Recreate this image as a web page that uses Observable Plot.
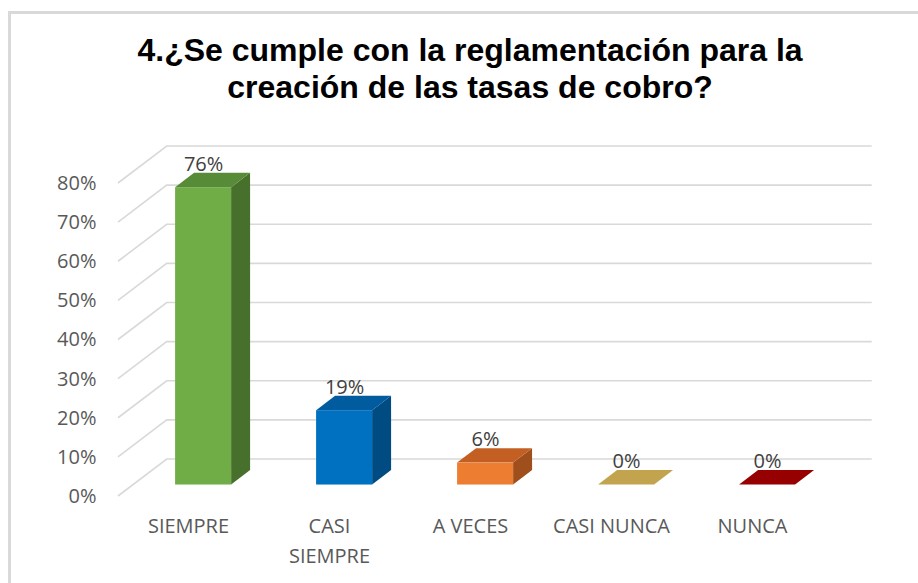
<!DOCTYPE html>
<html><head><meta charset="utf-8">
<script src="https://cdn.jsdelivr.net/npm/d3@7"></script>
<script src="https://cdn.jsdelivr.net/npm/@observablehq/plot@0.6"></script>
<style>
html,body{margin:0;padding:0;background:#fff;width:918px;height:583px;overflow:hidden;}
#frame{position:absolute;left:8px;top:11px;width:1000px;height:700px;border-left:3px solid #d9d9d9;border-top:3px solid #d9d9d9;box-sizing:border-box;z-index:10;pointer-events:none;}
#wrap{position:relative;width:918px;}
#title{padding-top:32px;height:75px;width:940px;text-align:center;font-family:"Liberation Sans",Arial,sans-serif;font-weight:bold;font-size:32px;line-height:37px;color:#000;white-space:nowrap;}
#chart svg{display:block;}
</style></head>
<body>
<div id="frame"></div>
<div id="wrap">
<div id="title">4.¿Se cumple con la reglamentación para la<br>creación de las tasas de cobro?</div>
<div id="chart"></div>
</div>
<script>
// ---- data ----
const categories = ["SIEMPRE", "CASI SIEMPRE", "A VECES", "CASI NUNCA", "NUNCA"];
const categoryLabels = ["SIEMPRE", "CASI\nSIEMPRE", "A VECES", "CASI NUNCA", "NUNCA"];
const values = [76, 19, 5.6, 0, 0];
const valueLabels = ["76%", "19%", "6%", "0%", "0%"];
const yTicks = [0, 10, 20, 30, 40, 50, 60, 70, 80];
const frontColors = ["#70AD47", "#0070C0", "#ED7D31", "#D4B45A", "#A50000"];
const topColors   = ["#588B37", "#005C9E", "#C35F22", "#C2A44E", "#960000"];
const sideColors  = ["#47702C", "#004B82", "#9E4F1B", "#9C8540", "#780000"];

// ---- 3D projection settings (pixels) ----
const D = {dx: 48.7, dy: 37};
const zF = 0.31, zB = 0.70;

const data = categories.map((c, i) => ({
  cat: c, value: values[i], label: valueLabels[i],
  front: frontColors[i], top: topColors[i], side: sideColors[i]
}));

function bw(x) { return typeof x.bandwidth === "function" ? x.bandwidth() : x.bandwidth; }

function walls(index, scales) {
  const {x, y} = scales;
  const r = x.range();
  const x0 = Math.min(...r), x1 = Math.max(...r);
  const g = d3.create("svg:g").attr("fill", "none").attr("stroke", "#D9D9D9").attr("stroke-width", 1.6);
  for (const t of yTicks) {
    const yy = y(t);
    g.append("path").attr("d", `M${x0},${yy}L${x0 + D.dx},${yy - D.dy}L${x1 + D.dx},${yy - D.dy}`);
  }
  return g.node();
}

function bars3d(index, scales) {
  const {x, y} = scales;
  const w = bw(x);
  const g = d3.create("svg:g");
  const P = (px, py, z) => [px + z * D.dx, py - z * D.dy];
  const poly = pts => "M" + pts.map(p => p.join(",")).join("L") + "Z";
  data.forEach(d => {
    const xl = x(d.cat), xr = xl + w, yb = y(0), yt = y(d.value);
    if (d.value > 0) {
      g.append("path").attr("fill", d.side)
        .attr("d", poly([P(xr, yb, zF), P(xr, yt, zF), P(xr, yt, zB), P(xr, yb, zB)]));
    }
    g.append("path").attr("fill", d.top)
      .attr("d", poly([P(xl, yt, zF), P(xr, yt, zF), P(xr, yt, zB), P(xl, yt, zB)]));
  });
  return g.node();
}

const plot = Plot.plot({
  width: 918,
  height: 476,
  marginTop: 76,
  marginBottom: 87,
  marginLeft: 118,
  marginRight: 95,
  style: {background: "transparent", fontFamily: "'Open Sans', sans-serif", fontSize: "20px", color: "#595959"},
  x: {domain: categories, paddingInner: 0.6, paddingOuter: 0.3, axis: null},
  y: {domain: [0, 80], axis: null},
  color: {type: "identity"},
  marks: [
    walls,
    bars3d,
    Plot.barY(data, {x: "cat", y: "value", fill: "front", dx: zF * D.dx, dy: -zF * D.dy}),
    Plot.text(data, {x: "cat", y: "value", text: "label", dx: zF * D.dx, dy: -zB * D.dy - 9,
      lineAnchor: "middle", fill: "#404040", fontSize: 20}),
    Plot.axisY(yTicks, {tickFormat: d => d + "%", tickSize: 0, tickPadding: 22, label: null,
      fill: "#595959", fontSize: 20}),
    Plot.text(categories, {x: d => d, y: () => 0, text: (d, i) => categoryLabels[i],
      lineAnchor: "top", dy: 15, lineHeight: 1.5, fill: "#595959", fontSize: 20})
  ]
});
document.getElementById("chart").appendChild(plot);
</script>
</body></html>
